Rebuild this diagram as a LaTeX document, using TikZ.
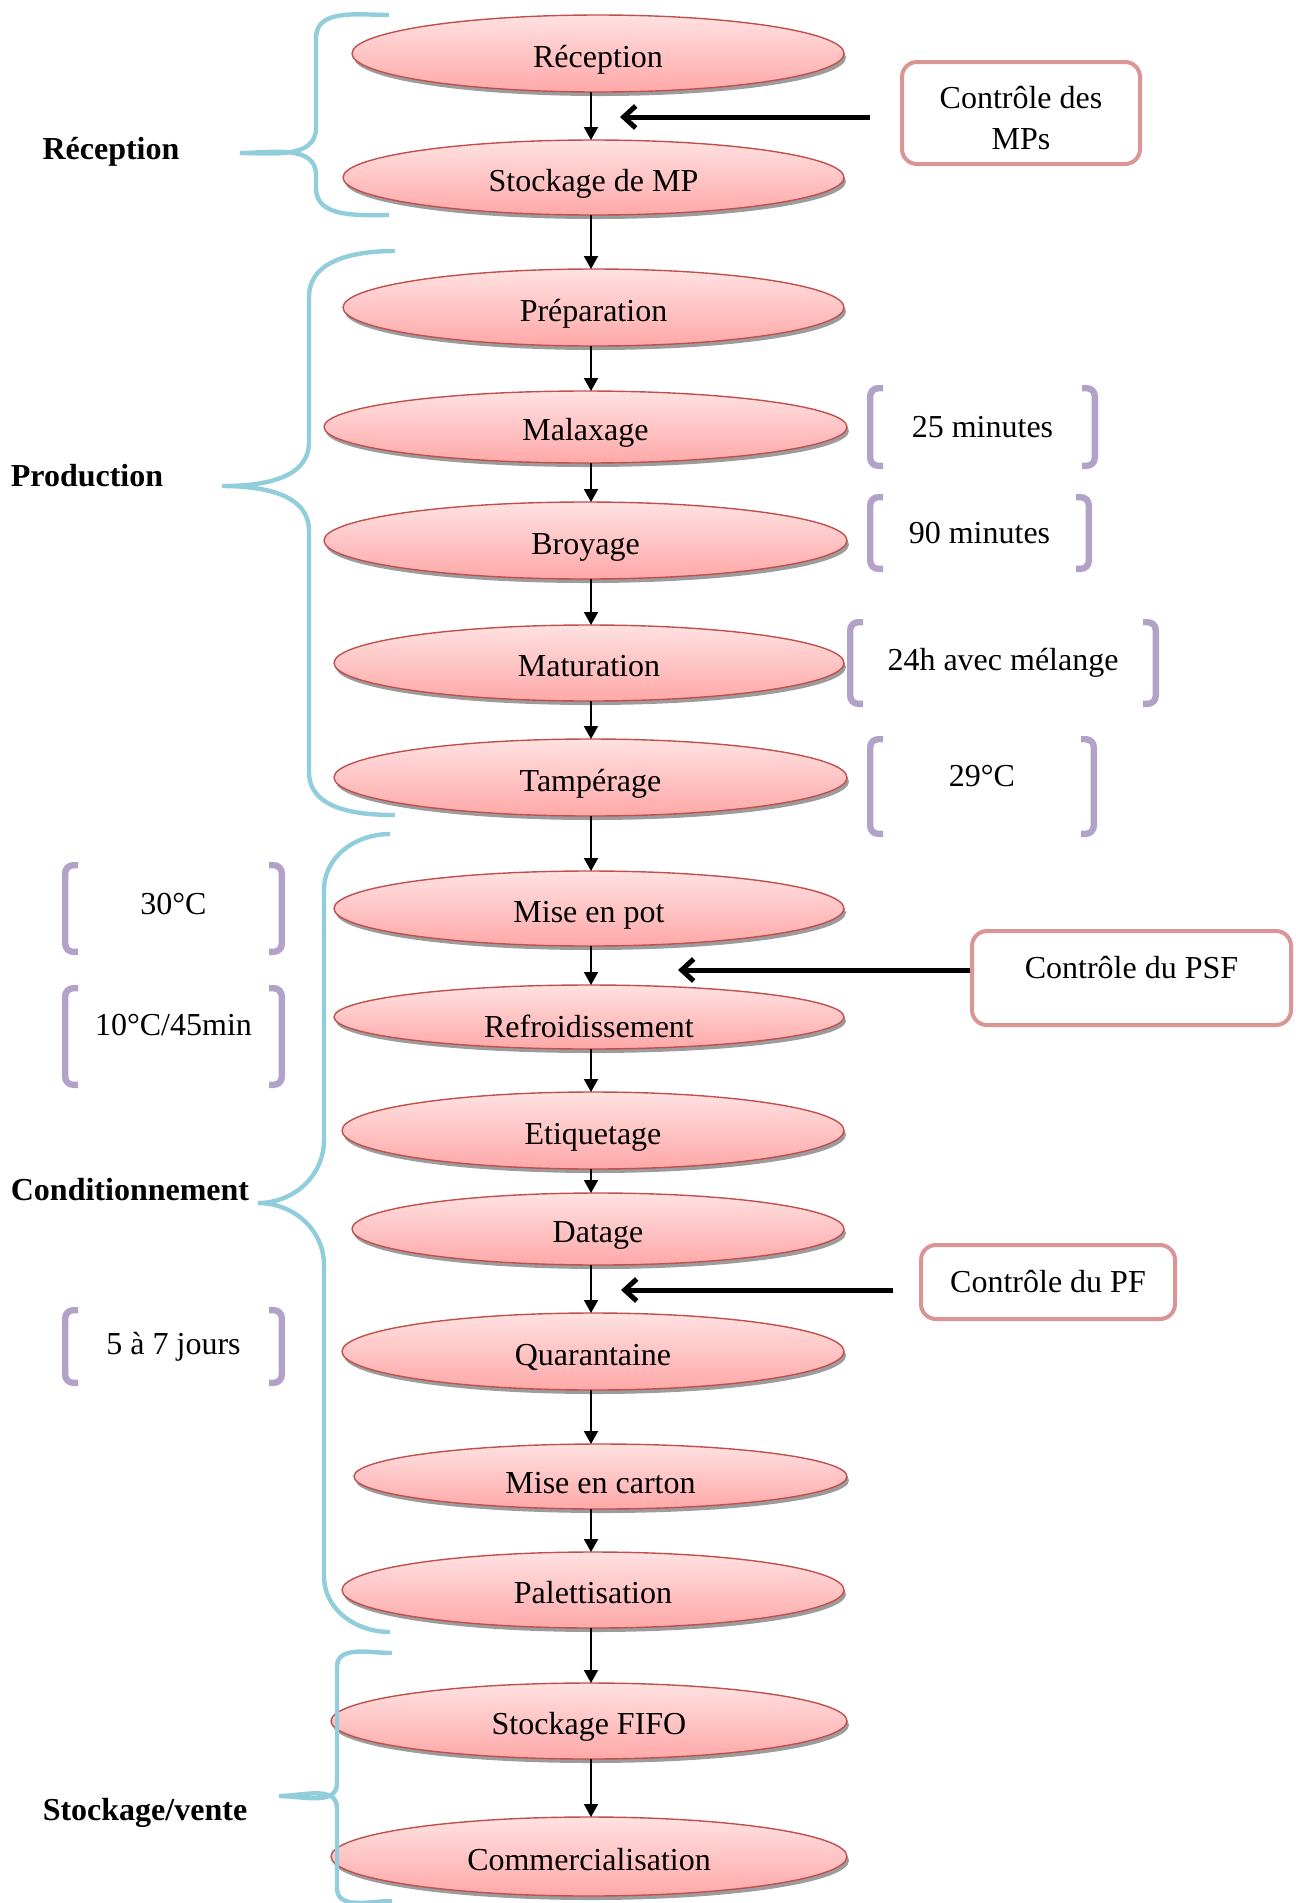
\documentclass[tikz,border=0pt]{standalone}
\usepackage{fontspec}
\setmainfont{Liberation Serif}
\usetikzlibrary{positioning,arrows.meta,shapes.geometric,shadows}
\definecolor{sred}{HTML}{C0504D}
\definecolor{ptop}{HTML}{FFE1E1}
\definecolor{pbot}{HTML}{FFA8A8}
\definecolor{sgray}{HTML}{9C9C9C}
\definecolor{bcyan}{HTML}{92CDDC}
\definecolor{bpurple}{HTML}{B3A2C7}
\definecolor{cpink}{HTML}{D99694}
\tikzstyle{sbox}=[ellipse, draw=sred, line width=0.7pt, top color=ptop,
 bottom color=pbot, inner sep=0pt, outer sep=0pt, text height=17pt, text depth=3.5pt,
 drop shadow={shadow xshift=1pt, shadow yshift=-2pt, fill=sgray, opacity=1},
 font=\fontsize{16}{19}\selectfont]
\tikzstyle{cbox}=[rectangle, rounded corners=7.5pt, draw=cpink, line width=2pt,
 fill=white, align=center, font=\fontsize{16}{20.5}\selectfont]
\tikzstyle{bline}=[line width=3.2pt, draw=bpurple, rounded corners=4pt]
\tikzstyle{tbox}=[rectangle, inner sep=0pt, font=\fontsize{16}{19}\selectfont,
 path picture={
  \draw[bline] ([xshift=8pt,yshift=-1.6pt]path picture bounding box.north west)
   -| ([xshift=1.6pt,yshift=1.6pt]path picture bounding box.south west) -- ++(6.4pt,0);
  \draw[bline] ([xshift=-8pt,yshift=-1.6pt]path picture bounding box.north east)
   -| ([xshift=-1.6pt,yshift=1.6pt]path picture bounding box.south east) -- ++(-6.4pt,0);
 }]
\tikzstyle{lbl}=[font=\fontsize{16}{19}\selectfont\bfseries]
\tikzstyle{fline}=[-{Triangle[length=6.5pt,width=7pt]}, line width=1pt]
\tikzstyle{cline}=[-{Straight Barb[length=6pt,width=11pt]}, line width=2.5pt]
\tikzstyle{brc}=[draw=bcyan, line width=2.2pt]

\begin{document}
\begin{tikzpicture}[x=0.5pt, y=0.5pt, node distance=0mm]
\useasboundingbox (0,0) rectangle (1296,-1903);

% process steps
\node (RECEP) [sbox, minimum width=246pt, minimum height=38.5pt] at (598,-53.5) {Réception};
\node (STOCKMP) [sbox, minimum width=250.5pt, minimum height=37.5pt, below=24pt of RECEP, xshift=-2.25pt] {Stockage de MP};
\node (PREP) [sbox, minimum width=250.5pt, minimum height=38.5pt, below=27pt of STOCKMP] {Préparation};
\node (MALAX) [sbox, minimum width=261.5pt, minimum height=36pt, below=22.5pt of PREP, xshift=-4pt] {Malaxage};
\node (BROY) [sbox, minimum width=261.5pt, minimum height=38.5pt, below=19.5pt of MALAX] {Broyage};
\node (MATUR) [sbox, minimum width=255pt, minimum height=38pt, below=23pt of BROY, xshift=1.75pt] {Maturation};
\node (TAMP) [sbox, minimum width=256.5pt, minimum height=38.5pt, below=19pt of MATUR, xshift=0.75pt] {Tampérage};
\node (MISEPOT) [sbox, minimum width=255pt, minimum height=37.5pt, below=27.5pt of TAMP, xshift=-0.75pt] {Mise en pot};
\node (REFROID) [sbox, minimum width=255pt, minimum height=32pt, text height=20.4pt, text depth=0pt, below=19.5pt of MISEPOT] {Refroidissement};
\node (ETIQ) [sbox, minimum width=251pt, minimum height=38.5pt, below=21.5pt of REFROID, xshift=2pt] {Etiquetage};
\node (DATAGE) [sbox, minimum width=246pt, minimum height=36pt, below=12pt of ETIQ, xshift=2.5pt] {Datage};
\node (QUAR) [sbox, minimum width=251pt, minimum height=38.5pt, below=24pt of DATAGE, xshift=-2.5pt] {Quarantaine};
\node (CARTON) [sbox, minimum width=246.5pt, minimum height=32.5pt, text height=16.6pt, text depth=0pt, below=27pt of QUAR, xshift=3.75pt] {Mise en carton};
\node (PALET) [sbox, minimum width=251pt, minimum height=38pt, below=21.5pt of CARTON, xshift=-3.75pt] {Palettisation};
\node (FIFO) [sbox, minimum width=258pt, minimum height=38pt, below=27.5pt of PALET, xshift=-2pt] {Stockage FIFO};
\node (COMMERC) [sbox, minimum width=258pt, minimum height=39.5pt, below=29pt of FIFO] {Commercialisation};

% flow
\coordinate (AX) at (591,0);
\draw[fline] (RECEP.south -| AX) -- (STOCKMP.north -| AX);
\draw[fline] (STOCKMP.south -| AX) -- (PREP.north -| AX);
\draw[fline] (PREP.south -| AX) -- (MALAX.north -| AX);
\draw[fline] (MALAX.south -| AX) -- (BROY.north -| AX);
\draw[fline] (BROY.south -| AX) -- (MATUR.north -| AX);
\draw[fline] (MATUR.south -| AX) -- (TAMP.north -| AX);
\draw[fline] (TAMP.south -| AX) -- (MISEPOT.north -| AX);
\draw[fline] (MISEPOT.south -| AX) -- (REFROID.north -| AX);
\draw[fline] (REFROID.south -| AX) -- (ETIQ.north -| AX);
\draw[fline] (ETIQ.south -| AX) -- (DATAGE.north -| AX);
\draw[fline] (DATAGE.south -| AX) -- (QUAR.north -| AX);
\draw[fline] (QUAR.south -| AX) -- (CARTON.north -| AX);
\draw[fline] (CARTON.south -| AX) -- (PALET.north -| AX);
\draw[fline] (PALET.south -| AX) -- (FIFO.north -| AX);
\draw[fline] (FIFO.south -| AX) -- (COMMERC.north -| AX);

% controls
\node (CMP) [cbox, minimum width=119pt, minimum height=51pt] at (1021,-113) {\rule{0pt}{16.5pt}Contrôle des\\MPs};
\node (CPSF) [cbox, minimum width=159.5pt, minimum height=47pt, text depth=11pt] at (1131.5,-978) {Contrôle du PSF};
\node (CPF) [cbox, minimum width=127pt, minimum height=37pt] at (1048,-1282) {Contrôle du PF};
\coordinate (MPIN) at (620,-117);
\coordinate (PSFIN) at (678,-970);
\coordinate (PFIN) at (621,-1290);
\draw[cline, shorten <=15pt] (CMP.west |- MPIN) -- (MPIN);
\draw[cline] (CPSF.west |- PSFIN) -- (PSFIN);
\draw[cline, shorten <=13pt] (CPF.west |- PFIN) -- (PFIN);

% parameters
\node (MIN25) [tbox, minimum width=115.5pt, minimum height=42pt] at (982.5,-427) {25 minutes};
\node (MIN90) [tbox, minimum width=112.5pt, minimum height=39pt] at (979.5,-533) {90 minutes};
\node (MEL24) [tbox, minimum width=156pt, minimum height=44pt] at (1003,-663) {24h avec mélange};
\node (T29) [tbox, minimum width=115pt, minimum height=50.5pt, text depth=10.5pt] at (982,-786.5) {29°C};
\node (T30) [tbox, minimum width=111.5pt, minimum height=46.5pt, text depth=4.5pt] at (173.5,-908.5) {30°C};
\node (T10) [tbox, minimum width=111.5pt, minimum height=51.5pt, text depth=12pt] at (173.5,-1036.5) {10°C/45min};
\node (JOURS) [tbox, minimum width=111.5pt, minimum height=39.5pt] at (173.5,-1346.5) {5 à 7 jours};

% phases
\node (LRECEP) [lbl] at (111,-152) {Réception};
\node (LPROD) [lbl] at (87,-476) {Production};
\node (LCOND) [lbl] at (130,-1190) {Conditionnement};
\node (LSTOCK) [lbl] at (145,-1813) {Stockage/vente};
\draw[brc] (389,-15) to[out=180,in=90] (316,-38) -- (316,-128) to[out=-90,in=0] (240,-153)
 to[out=0,in=90] (316,-175) -- (316,-188) to[out=-90,in=180] (389,-215);
\draw[brc] (395,-251) to[out=180,in=90] (309,-297) -- (309,-442) to[out=-90,in=0] (222,-486)
 to[out=0,in=90] (309,-531) -- (309,-772) to[out=-90,in=180] (395,-815);
\draw[brc] (390,-834) to[out=180,in=90] (324,-890) -- (324,-1140) to[out=-90,in=0] (258,-1203)
 to[out=0,in=90] (324,-1265) -- (324,-1576) to[out=-90,in=180] (390,-1632);
\draw[brc] (392,-1653) to[out=180,in=90] (337,-1667) -- (337,-1783) to[out=-90,in=0] (279,-1796)
 to[out=0,in=90] (337,-1808) -- (337,-1888) to[out=-90,in=180] (392,-1901);

\end{tikzpicture}
\end{document}
